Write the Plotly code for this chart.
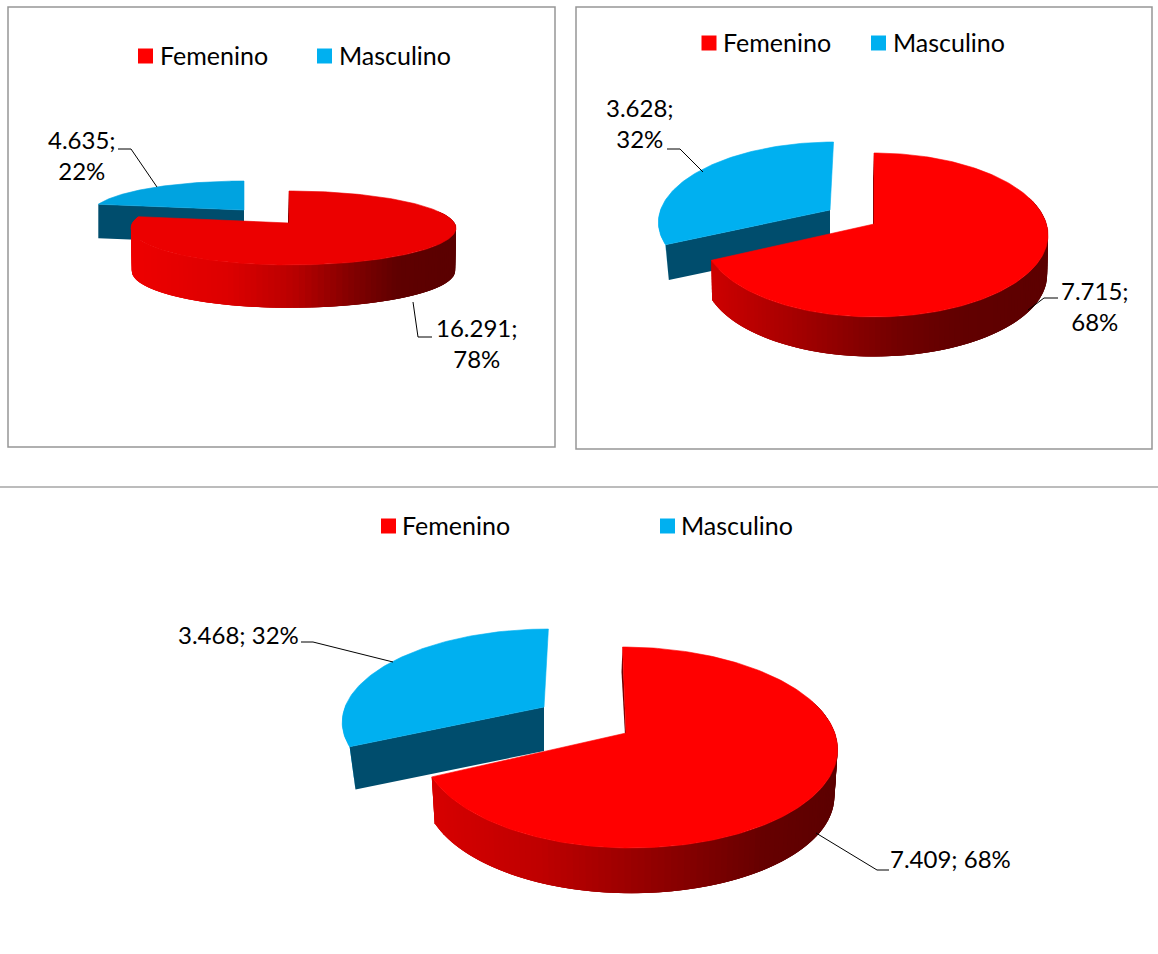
import math
import plotly.graph_objects as go

# ---------- data ----------
categories = ["Femenino", "Masculino"]
values_a = [16291, 4635]
values_b = [7715, 3628]
values_c = [7409, 3468]

# ---------- styling / layout (page pixels) ----------
FONT = "Lato, Carlito, Calibri, sans-serif"
FS_LEGEND = 25
FS_LABEL = 24
BLUE_WALL = "#004D6D"

PIES = [
    dict(values=values_a, top_red="#EC0000", top_blue="#00A3E0",
         red=dict(ax=289, ay=223, T=32, Bt=42, W=167, WL=158, shear=0, depth=43, scale=0.995),
         blue=dict(ax=244, ay=210, T=29, Bt=38, W=153, WL=153, shear=0, depth=34, scale=1.0),
         grad=[(0, 238), (0.3, 220), (0.5, 185), (0.68, 130), (0.82, 95), (1, 90)],
         legend=dict(y=55, red_sq=145.5, red_tx=158, blue_sq=324.5, blue_tx=337),
         labels=[dict(x=477, y=342.5, br=True), dict(x=82, y=154.5, br=True)],
         leaders=[[(413, 302), (418, 337), (432, 337)], [(118, 149), (131, 149), (157, 187)]]),
    dict(values=values_b, top_red="#FF0000", top_blue="#00B0F0",
         red=dict(ax=874, ay=224, T=71, Bt=93, W=174, WL=171, shear=0, depth=40, scale=0.995),
         blue=dict(ax=830, ay=210, T=68, Bt=89, W=171, WL=171, shear=4, depth=36, scale=0.98),
         grad=[(0, 205), (0.25, 165), (0.55, 115), (0.72, 98), (1, 92)],
         legend=dict(y=42, red_sq=709, red_tx=721, blue_sq=878.5, blue_tx=891),
         labels=[dict(x=1095, y=305.5, br=True), dict(x=640, y=122.5, br=True)],
         leaders=[[(1028, 310), (1044, 298), (1058, 298)], [(667, 149), (680, 149), (703, 172)]]),
    dict(values=values_c, top_red="#FF0000", top_blue="#00B0F0",
         red=dict(ax=626, ay=733, T=86, Bt=115, W=211, WL=205, shear=-4, depth=47, scale=0.985),
         blue=dict(ax=544, ay=707, T=78, Bt=104, W=201, WL=201, shear=5, depth=44, scale=0.97),
         grad=[(0, 215), (0.27, 190), (0.52, 150), (0.82, 102), (1, 92)],
         legend=dict(y=525, red_sq=388.5, red_tx=400, blue_sq=667.5, blue_tx=679),
         labels=[dict(x=950, y=858, br=False), dict(x=238, y=634, br=False)],
         leaders=[[(816, 833), (877, 870), (889, 870)], [(301, 642), (313, 642), (393, 662)]]),
]

BOXES = [(8, 7, 555, 447), (576, 7, 1152, 449)]
RULE_Y = 487


def project(g, theta_deg):
    """Clockwise pie angle from 12 o'clock -> page pixel, perspective disc."""
    t = math.radians(theta_deg)
    X, Y = math.sin(t), math.cos(t)
    k = (g["Bt"] - g["T"]) / (g["Bt"] + g["T"])
    half = g["W"] if X >= 0 else g["WL"]
    A = half * math.sqrt(1 - k * k)
    B = g["T"] * (1 + k)
    w = 1 + k * Y
    return g["ax"] + A * X / w + g["shear"] * Y / w, g["ay"] - B * Y / w


def lower(g, p):
    return (g["ax"] + (p[0] - g["ax"]) * g["scale"],
            g["ay"] + (p[1] - g["ay"]) * g["scale"] + g["depth"])


def sweep(a, b, n=90):
    return [a + (b - a) * i / n for i in range(n + 1)]


def poly(fig, pts, fill, line=None):
    xs = [p[0] for p in pts] + [pts[0][0]]
    ys = [p[1] for p in pts] + [pts[0][1]]
    fig.add_trace(go.Scatter(
        x=xs, y=ys, mode="lines", fill="toself", fillcolor=fill,
        line=dict(color=line or fill, width=0.6 if line else 0),
        hoverinfo="skip", showlegend=False))


def shade(stops, f):
    f = max(0.0, min(1.0, f))
    for (f0, v0), (f1, v1) in zip(stops, stops[1:]):
        if f <= f1:
            v = v0 + (v1 - v0) * (f - f0) / (f1 - f0)
            return f"rgb({int(round(v))},0,0)"
    return f"rgb({stops[-1][1]},0,0)"


def fmt(v):
    return f"{v:,}".replace(",", ".")


fig = go.Figure()
annotations = []
shapes = []

for x0, y0, x1, y1 in BOXES:
    shapes.append(dict(type="rect", xref="x", yref="y", x0=x0, y0=y0, x1=x1, y1=y1,
                       line=dict(color="#969696", width=1.5), fillcolor="rgba(0,0,0,0)"))
shapes.append(dict(type="line", xref="x", yref="y", x0=0, x1=1158, y0=RULE_Y, y1=RULE_Y,
                   line=dict(color="#A6A6A6", width=1.5)))

for pie in PIES:
    vals = pie["values"]
    total = sum(vals)
    split = 360 * vals[0] / total
    r, b = pie["red"], pie["blue"]

    # ---- exploded blue slice (behind) ----
    arc = [project(b, t) for t in sweep(split, 360)]
    apex_b = (b["ax"], b["ay"])
    left_end = arc[0]
    if split < 270:
        wall = [project(b, t) for t in sweep(split, 272, 30)]
        poly(fig, wall + [lower(b, left_end)], pie["top_blue"])
    poly(fig, [left_end, apex_b, (b["ax"], b["ay"] + b["depth"]), lower(b, left_end)], BLUE_WALL)
    poly(fig, [apex_b] + arc, pie["top_blue"], pie["top_blue"])

    # ---- red slice: side wall painted as overlapping bands, no seams ----
    segs = sweep(70, split, 110)
    xs_all = [project(r, t)[0] for t in sweep(60, split, 200)]
    xl, xr = min(xs_all), max(xs_all)
    step = segs[1] - segs[0]
    for t0, t1 in zip(segs, segs[1:]):
        p0, p1 = project(r, t0), project(r, t1)
        far = project(r, min(split, t1 + 2 * step))
        band = [p0, p1, far]
        col = shade(pie["grad"], ((p0[0] + p1[0]) / 2 - xl) / (xr - xl))
        poly(fig, band + [lower(r, p) for p in reversed(band)], col)
    arc = [project(r, t) for t in sweep(0, split, 200)]
    apex_r = (r["ax"], r["ay"])
    # thin dark radial face next to the 12 o'clock edge
    poly(fig, [arc[0], apex_r, (r["ax"] - 1, r["ay"] + 2), (arc[0][0] - 1, arc[0][1] + 25)], "#6A0000")
    poly(fig, [apex_r] + arc, pie["top_red"], pie["top_red"])

    # ---- leader lines ----
    for pts in pie["leaders"]:
        fig.add_trace(go.Scatter(x=[p[0] for p in pts], y=[p[1] for p in pts], mode="lines",
                                 line=dict(color="#000000", width=1),
                                 hoverinfo="skip", showlegend=False))

    # ---- data labels ----
    for v, lab in zip(vals, pie["labels"]):
        sep = ";<br>" if lab["br"] else "; "
        annotations.append(dict(
            x=lab["x"], y=lab["y"], xref="x", yref="y", showarrow=False,
            xanchor="center", yanchor="middle", align="center",
            text=f"{fmt(v)}{sep}{round(100 * v / total)}%",
            font=dict(family=FONT, size=FS_LABEL, color="#000000")))

    # ---- legend ----
    lg = pie["legend"]
    sq_y = lg["y"] + 1
    fig.add_trace(go.Scatter(
        x=[lg["red_sq"], lg["blue_sq"]], y=[sq_y, sq_y], mode="markers",
        marker=dict(symbol="square", size=15, color=["#FF0000", "#00B0F0"], line=dict(width=0)),
        hoverinfo="skip", showlegend=False))
    for name, tx in zip(categories, [lg["red_tx"], lg["blue_tx"]]):
        annotations.append(dict(
            x=tx, y=lg["y"], xref="x", yref="y", showarrow=False,
            xanchor="left", yanchor="middle", text=name,
            font=dict(family=FONT, size=FS_LEGEND, color="#000000")))

fig.update_layout(
    width=1158, height=954, autosize=False,
    margin=dict(l=0, r=0, t=0, b=0, pad=0),
    paper_bgcolor="#FFFFFF", plot_bgcolor="#FFFFFF",
    showlegend=False,
    xaxis=dict(range=[0, 1158], visible=False, fixedrange=True),
    yaxis=dict(range=[954, 0], visible=False, fixedrange=True),
    annotations=annotations, shapes=shapes,
)

fig.write_html("out.html", config=dict(displayModeBar=False),
               post_script="document.body.style.margin='0';document.documentElement.style.overflow='hidden';")
